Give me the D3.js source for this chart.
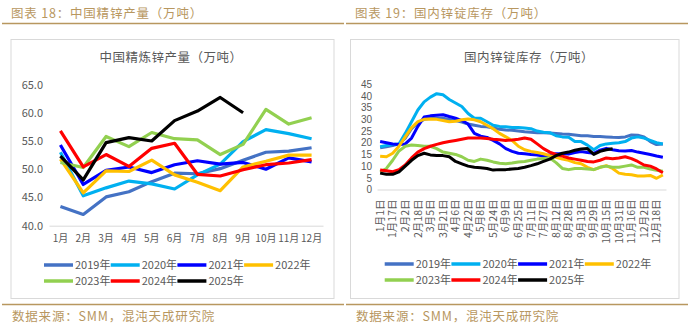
<!DOCTYPE html>
<html>
<head>
<meta charset="utf-8">
<script src="https://cdn.jsdelivr.net/npm/d3@7/dist/d3.min.js"></script>
<style>
  html, body { margin: 0; padding: 0; background: #fff; }
  svg { display: block; }
  text { font-family: "Noto Sans CJK SC", "Noto Sans", sans-serif; }
</style>
</head>
<body>
<svg id="page" width="688" height="326"></svg>
<script>
// ---------- data ----------
const seriesNames = ["2019年", "2020年", "2021年", "2022年", "2023年", "2024年", "2025年"];
const seriesColors = ["#4472C4", "#00B0F0", "#0000FF", "#FFC000", "#92D050", "#FF0000", "#000000"];

// Monthly refined zinc output (10k t)
const months = ["1月", "2月", "3月", "4月", "5月", "6月", "7月", "8月", "9月", "10月", "11月", "12月"];
const output2019 = [43.4, 42.0, 45.1, 46.0, 47.8, 49.3, 49.2, 50.1, 51.6, 53.0, 53.2, 53.8];
const output2020 = [53.0, 45.3, 46.7, 47.9, 47.4, 46.5, 49.0, 50.9, 54.9, 57.0, 56.3, 55.4];
const output2021 = [54.3, 47.3, 49.8, 50.4, 49.4, 50.8, 51.5, 50.9, 51.2, 50.0, 52.0, 51.3];
const output2022 = [51.8, 45.8, 49.7, 49.6, 51.6, 49.0, 47.7, 46.2, 50.4, 51.4, 52.5, 52.5];
const output2023 = [51.2, 50.3, 55.8, 54.0, 56.5, 55.4, 55.2, 52.6, 54.4, 60.6, 58.0, 59.1];
const output2024 = [56.8, 50.4, 52.6, 50.5, 53.7, 54.6, 49.1, 48.8, 49.9, 50.8, 51.1, 51.7];
const output2025 = [52.3, 48.1, 54.7, 55.6, 55.0, 58.6, 60.3, 62.7, 60.0];
const outputTicks = [40, 45, 50, 55, 60, 65];

// Domestic zinc ingot inventory (10k t)
const invDates = ["1月1日", "1月9日", "1月17日", "1月25日", "2月2日", "2月10日", "2月18日", "2月26日",
  "3月5日", "3月13日", "3月21日", "3月29日", "4月6日", "4月14日", "4月22日", "4月30日",
  "5月8日", "5月16日", "5月24日", "6月1日", "6月9日", "6月17日", "6月25日", "7月3日",
  "7月11日", "7月19日", "7月27日", "8月4日", "8月12日", "8月20日", "8月28日", "9月5日",
  "9月13日", "9月21日", "9月29日", "10月7日", "10月15日", "10月23日", "10月31日", "11月8日",
  "11月16日", "11月24日", "12月2日", "12月10日", "12月18日", "12月26日"];
const invLabelDates = ["1月1日", "1月17日", "2月2日", "2月18日", "3月5日", "3月21日", "4月6日", "4月22日",
  "5月8日", "5月24日", "6月9日", "6月25日", "7月11日", "7月27日", "8月12日", "8月28日",
  "9月13日", "9月29日", "10月15日", "10月31日", "11月16日", "12月2日", "12月18日"];
const inv2019 = [17.8, 18.3, 18.8, 19.5, 22, 26, 28.5, 30, 30.5, 30.5, 30.5, 30, 29.5, 28.8, 28, 27.5,
  27, 26.8, 26.3, 25.8, 25.5, 25.3, 25, 24.7, 24.5, 24.3, 24.3, 24.2, 24, 23.7, 23.6, 23.3,
  23, 23, 22.7, 22.7, 22.5, 22.3, 22.2, 22.5, 23.3, 23.2, 22.5, 20.5, 19.2, 19.5];
const inv2020 = [18.3, 18.8, 19.2, 19.5, 24, 29, 34, 37.5, 39.5, 41, 40.5, 38.5, 37, 35.5, 32.5, 30.5,
  30.5, 29, 27.5, 27, 26.8, 26.5, 26.5, 26.3, 26, 25, 24.5, 24.3, 23, 22.5, 22.3, 20.5,
  20.5, 19, 17, 18.8, 19.5, 19.8, 20, 20.5, 22, 22.5, 22, 21, 20, 19.5];
const inv2021 = [20.5, 20, 19.5, 19.3, 19.5, 22, 27, 31, 31.5, 31.8, 32, 31.2, 30.5, 29.5, 28, 24,
  22.8, 22.3, 21, 19.5, 17.5, 16.3, 15.5, 15.3, 15, 14.8, 14.3, 14.8, 15.3, 15.3, 15.2, 15.8,
  16.2, 15.8, 15.5, 16.8, 17.6, 17, 16.6, 16.5, 16.7, 16, 15.5, 15, 14.3, 13.8];
const inv2022 = [14.2, 14, 15.5, 18.5, 22.5, 26.5, 29, 30, 30.2, 30, 29.5, 29, 29.2, 29.8, 30.2, 29.8,
  29, 27.5, 26, 24, 22.5, 21, 18.5, 17, 16.3, 15.8, 15.3, 14.5, 13.8, 13, 12.5, 11.5,
  11, 9.5, 8.5, 9.5, 10.2, 9, 7, 6.5, 6.3, 5.8, 5.8, 6, 4.8, 6.2];
const inv2023 = [7.5, 9, 12.5, 16.5, 18.5, 19, 18.8, 18.5, 18.5, 17.5, 16, 15.5, 15, 14, 12.5, 12,
  13, 12.5, 11.8, 11.2, 11, 11.3, 11.8, 12, 12.5, 13, 13.3, 13.5, 11.5, 9, 8.5, 9,
  9, 8.8, 8.5, 9.5, 10, 9.5, 9.5, 10, 10.5, 9.5, 9.5, 8.8, 8.2, 7.8];
const inv2024 = [8.3, 8, 7.6, 8.5, 10.5, 13.5, 16, 17.5, 18.5, 19.3, 20, 20.5, 21, 21.5, 22, 22,
  22, 21.8, 21.5, 21.3, 21, 21.2, 21.5, 22, 21.5, 19.5, 17.5, 16, 15, 14.3, 13.5, 13,
  12.5, 12, 11.8, 12.5, 13.5, 13.2, 13.5, 14, 13.2, 12, 10.5, 10, 8.8, 7.2];
const inv2025 = [7, 6.5, 6.5, 7.5, 10, 12.5, 14.5, 15.5, 14.8, 14.5, 14.5, 14, 12, 11, 10, 9.5,
  9.3, 9, 8.3, 8.5, 8.5, 8.8, 9, 9.5, 10.2, 11, 12, 13, 14.5, 15.5, 16, 16.8,
  17.3, 17.5, 15, 16.3, 17, 17.4];
const invTicks = [0, 5, 10, 15, 20, 25, 30, 35, 40, 45];

const outputSeries = [output2019, output2020, output2021, output2022, output2023, output2024, output2025];
const invSeries = [inv2019, inv2020, inv2021, inv2022, inv2023, inv2024, inv2025];

// ---------- page frame ----------
const svg = d3.select("#page");
const gold = "#B8975F";
const grey = "#595959";

function panelFrame(x0, x1, heading, boxL, boxR) {
  svg.append("text").attr("x", x0 + 11).attr("y", 17.5)
    .attr("font-size", 12.5).attr("fill", gold).attr("letter-spacing", 0.8)
    .text(heading);
  svg.append("line").attr("x1", x0 + 2).attr("x2", x1).attr("y1", 23.5).attr("y2", 23.5)
    .attr("stroke", gold).attr("stroke-width", 1.5);
  svg.append("rect").attr("x", boxL).attr("y", 39.5).attr("width", boxR - boxL).attr("height", 259)
    .attr("fill", "#fff").attr("stroke", "#D9D9D9").attr("stroke-width", 1);
  svg.append("line").attr("x1", x0 + 2).attr("x2", x1).attr("y1", 304.5).attr("y2", 304.5)
    .attr("stroke", gold).attr("stroke-width", 1.5);
  svg.append("text").attr("x", x0 + 12).attr("y", 321)
    .attr("font-size", 12.5).attr("fill", gold).attr("letter-spacing", 0.8)
    .text("数据来源：SMM，混沌天成研究院");
}
panelFrame(0, 344, "图表 18：中国精锌产量（万吨）", 11, 334);
panelFrame(344, 688, "图表 19：国内锌锭库存（万吨）", 350.5, 679);

function legend(g, x0, y0) {
  seriesNames.forEach((name, k) => {
    const col = k % 4, row = Math.floor(k / 4);
    const x = x0 + col * 66.7, y = y0 + row * 16;
    g.append("line").attr("x1", x).attr("x2", x + 29).attr("y1", y).attr("y2", y)
      .attr("stroke", seriesColors[k]).attr("stroke-width", 3.5);
    g.append("text").attr("x", x + 31).attr("y", y + 4).attr("font-size", 11)
      .attr("fill", grey).text(name);
  });
}

const line = (x, y) => d3.line()
  .defined(d => d.v != null)
  .x(d => x(d.c) + x.bandwidth() / 2)
  .y(d => y(d.v));

// ---------- chart 1: refined zinc output ----------
{
  const g = svg.append("g");
  g.append("text").attr("x", 171).attr("y", 62).attr("text-anchor", "middle")
    .attr("font-size", 12.5).attr("fill", grey).attr("letter-spacing", 0.5)
    .text("中国精炼锌产量（万吨）");

  const x = d3.scaleBand().domain(months).range([49, 323]);
  const y = d3.scaleLinear().domain([40, 65]).range([225.7, 84.5]);

  const ya = g.append("g").attr("transform", "translate(49,0)")
    .call(d3.axisLeft(y).tickValues(outputTicks).tickFormat(d3.format(".1f")).tickSize(0).tickPadding(6));
  ya.select(".domain").remove();
  ya.selectAll("text").attr("font-size", 11).attr("fill", grey);

  const xa = g.append("g").attr("transform", "translate(0,225.7)")
    .call(d3.axisBottom(x).tickSize(0).tickPadding(9));
  xa.select(".domain").attr("stroke", "#D9D9D9");
  xa.selectAll("text").attr("font-size", 10).attr("fill", grey);

  outputSeries.forEach((vals, k) => {
    const pts = vals.map((v, i) => ({ c: months[i], v }));
    g.append("path").attr("d", line(x, y)(pts)).attr("fill", "none")
      .attr("stroke", seriesColors[k]).attr("stroke-width", 3.2).attr("stroke-linejoin", "round");
  });
  legend(g, 44, 265);
}

// ---------- chart 2: zinc ingot inventory ----------
{
  const g = svg.append("g");
  g.append("text").attr("x", 529).attr("y", 62).attr("text-anchor", "middle")
    .attr("font-size", 12.5).attr("fill", grey).attr("letter-spacing", 0.5)
    .text("国内锌锭库存（万吨）");

  const x = d3.scaleBand().domain(invDates).range([377, 666]);
  const y = d3.scaleLinear().domain([0, 45]).range([189.5, 84.3]);

  const ya = g.append("g").attr("transform", "translate(377,0)")
    .call(d3.axisLeft(y).tickValues(invTicks).tickSize(0).tickPadding(5));
  ya.select(".domain").remove();
  ya.selectAll("text").attr("font-size", 10).attr("fill", grey)
    .style("font-family", "\"Liberation Sans\", Arial, sans-serif");

  const xa = g.append("g").attr("transform", "translate(0,189.5)")
    .call(d3.axisBottom(x).tickValues(invLabelDates).tickSize(0).tickPadding(0));
  xa.select(".domain").attr("stroke", "#D9D9D9");
  xa.selectAll("text")
    .attr("font-size", 10.5).attr("fill", grey)
    .attr("text-anchor", "end").attr("dy", "0.35em")
    .attr("transform", "translate(0,10) rotate(-90)")
    .attr("x", 0).attr("y", 0);

  invSeries.forEach((vals, k) => {
    const pts = invDates.map((c, i) => ({ c, v: i < vals.length ? vals[i] : null }));
    g.append("path").attr("d", line(x, y)(pts)).attr("fill", "none")
      .attr("stroke", seriesColors[k]).attr("stroke-width", 3).attr("stroke-linejoin", "round");
  });
  legend(g, 384.7, 264);
}
</script>
</body>
</html>
